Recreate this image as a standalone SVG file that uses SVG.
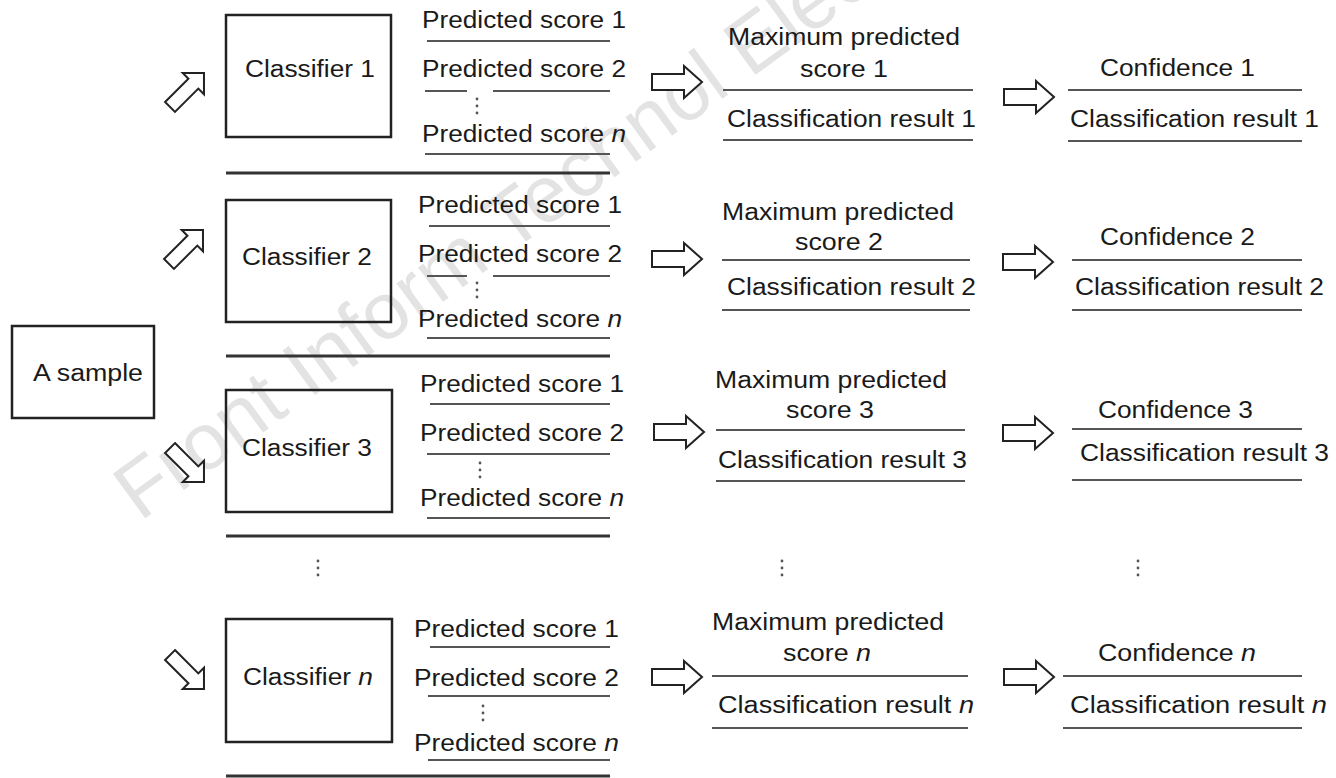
<svg xmlns="http://www.w3.org/2000/svg" width="1336" height="778" viewBox="0 0 1336 778">
<style>
.t{font-family:"Liberation Sans",Arial,sans-serif;font-size:23px;fill:#1a1a1a}
.i{font-style:italic}
.box{fill:none;stroke:#222;stroke-width:2.5}
.ul{stroke:#555;stroke-width:2.2}
.sep{stroke:#333;stroke-width:3}
.arr{fill:#fff;stroke:#222;stroke-width:2;stroke-linejoin:miter}
.dot{fill:#555}
.wm{font-family:"Liberation Sans",Arial,sans-serif;font-size:80px;fill:#e3e3e3}
</style>
<defs>
<path id="rarr" d="M-25,-8 H7 V-16 L25,0 L7,16 V8 H-25 Z"/>
<path id="darr" d="M-24,-7 H9 V-15 L24,0 L9,15 V7 H-24 Z"/>
<g id="vdots"><circle cx="0" cy="0" r="1.4"/><circle cx="0" cy="7" r="1.4"/><circle cx="0" cy="14" r="1.4"/></g>
</defs>
<rect width="1336" height="778" fill="#fff"/>
<text class="wm" x="140" y="522" transform="rotate(-36 140 522)">Front Inform Technol Electron Eng</text>

<g id="sample">
<rect class="box" x="12" y="326" width="142" height="92"/>
<text class="t" x="33" y="381" textLength="110" lengthAdjust="spacingAndGlyphs">A sample</text>
</g>

<g id="classifier1">
<rect class="box" x="226" y="15" width="165" height="122"/>
<text class="t" x="245" y="77" textLength="130" lengthAdjust="spacingAndGlyphs">Classifier 1</text>
</g>
<g id="classifier2">
<rect class="box" x="226" y="200" width="165" height="122"/>
<text class="t" x="242" y="265" textLength="130" lengthAdjust="spacingAndGlyphs">Classifier 2</text>
</g>
<g id="classifier3">
<rect class="box" x="226" y="390" width="166" height="122"/>
<text class="t" x="242" y="456" textLength="130" lengthAdjust="spacingAndGlyphs">Classifier 3</text>
</g>
<g id="classifierN">
<rect class="box" x="226" y="619" width="166" height="123"/>
<text class="t" x="243" y="685" textLength="130" lengthAdjust="spacingAndGlyphs">Classifier <tspan class="i">n</tspan></text>
</g>

<g id="scores1">
<text class="t" x="422" y="28" textLength="204" lengthAdjust="spacingAndGlyphs">Predicted score 1</text>
<line class="ul" x1="427" y1="41" x2="610" y2="41"/>
<text class="t" x="422" y="77" textLength="204" lengthAdjust="spacingAndGlyphs">Predicted score 2</text>
<line class="ul" x1="425" y1="91" x2="467" y2="91"/>
<line class="ul" x1="493" y1="91" x2="610" y2="91"/>
<use href="#vdots" class="dot" x="477" y="99"/>
<text class="t" x="422" y="142" textLength="204" lengthAdjust="spacingAndGlyphs">Predicted score <tspan class="i">n</tspan></text>
<line class="ul" x1="425" y1="154" x2="610" y2="154"/>
<line class="sep" x1="226" y1="173" x2="610" y2="173"/>
</g>
<g id="scores2">
<text class="t" x="418" y="213" textLength="204" lengthAdjust="spacingAndGlyphs">Predicted score 1</text>
<line class="ul" x1="429" y1="226" x2="610" y2="226"/>
<text class="t" x="418" y="262" textLength="204" lengthAdjust="spacingAndGlyphs">Predicted score 2</text>
<line class="ul" x1="427" y1="276" x2="467" y2="276"/>
<line class="ul" x1="493" y1="276" x2="610" y2="276"/>
<use href="#vdots" class="dot" x="477" y="283"/>
<text class="t" x="418" y="327" textLength="204" lengthAdjust="spacingAndGlyphs">Predicted score <tspan class="i">n</tspan></text>
<line class="ul" x1="427" y1="338" x2="610" y2="338"/>
<line class="sep" x1="226" y1="356" x2="610" y2="356"/>
</g>
<g id="scores3">
<text class="t" x="420" y="392" textLength="204" lengthAdjust="spacingAndGlyphs">Predicted score 1</text>
<line class="ul" x1="430" y1="404" x2="610" y2="404"/>
<text class="t" x="420" y="441" textLength="204" lengthAdjust="spacingAndGlyphs">Predicted score 2</text>
<line class="ul" x1="427" y1="454" x2="610" y2="454"/>
<use href="#vdots" class="dot" x="480" y="463"/>
<text class="t" x="420" y="506" textLength="204" lengthAdjust="spacingAndGlyphs">Predicted score <tspan class="i">n</tspan></text>
<line class="ul" x1="427" y1="518" x2="610" y2="518"/>
<line class="sep" x1="226" y1="536" x2="610" y2="536"/>
</g>
<g id="scoresN">
<text class="t" x="414" y="637" textLength="205" lengthAdjust="spacingAndGlyphs">Predicted score 1</text>
<line class="ul" x1="430" y1="647" x2="610" y2="647"/>
<text class="t" x="414" y="686" textLength="205" lengthAdjust="spacingAndGlyphs">Predicted score 2</text>
<line class="ul" x1="428" y1="696" x2="610" y2="696"/>
<use href="#vdots" class="dot" x="483" y="706"/>
<text class="t" x="414" y="751" textLength="205" lengthAdjust="spacingAndGlyphs">Predicted score <tspan class="i">n</tspan></text>
<line class="ul" x1="428" y1="760" x2="610" y2="760"/>
<line class="sep" x1="226" y1="776" x2="610" y2="776"/>
</g>

<g id="max1">
<text class="t" x="728" y="45" textLength="232" lengthAdjust="spacingAndGlyphs">Maximum predicted</text>
<text class="t" x="800" y="77" textLength="88" lengthAdjust="spacingAndGlyphs">score 1</text>
<line class="ul" x1="723" y1="90" x2="973" y2="90"/>
<text class="t" x="727" y="127" textLength="249" lengthAdjust="spacingAndGlyphs">Classification result 1</text>
<line class="ul" x1="723" y1="140" x2="973" y2="140"/>
</g>
<g id="max2">
<text class="t" x="722" y="220" textLength="232" lengthAdjust="spacingAndGlyphs">Maximum predicted</text>
<text class="t" x="795" y="250" textLength="88" lengthAdjust="spacingAndGlyphs">score 2</text>
<line class="ul" x1="722" y1="260" x2="970" y2="260"/>
<text class="t" x="727" y="295" textLength="249" lengthAdjust="spacingAndGlyphs">Classification result 2</text>
<line class="ul" x1="722" y1="310" x2="970" y2="310"/>
</g>
<g id="max3">
<text class="t" x="715" y="388" textLength="232" lengthAdjust="spacingAndGlyphs">Maximum predicted</text>
<text class="t" x="786" y="418" textLength="88" lengthAdjust="spacingAndGlyphs">score 3</text>
<line class="ul" x1="716" y1="430" x2="965" y2="430"/>
<text class="t" x="718" y="468" textLength="249" lengthAdjust="spacingAndGlyphs">Classification result 3</text>
<line class="ul" x1="716" y1="481" x2="965" y2="481"/>
</g>
<g id="maxN">
<text class="t" x="712" y="630" textLength="232" lengthAdjust="spacingAndGlyphs">Maximum predicted</text>
<text class="t" x="783" y="661" textLength="88" lengthAdjust="spacingAndGlyphs">score <tspan class="i">n</tspan></text>
<line class="ul" x1="712" y1="676" x2="968" y2="676"/>
<text class="t" x="718" y="713" textLength="256" lengthAdjust="spacingAndGlyphs">Classification result <tspan class="i">n</tspan></text>
<line class="ul" x1="712" y1="728" x2="968" y2="728"/>
</g>

<g id="conf1">
<text class="t" x="1100" y="76" textLength="155" lengthAdjust="spacingAndGlyphs">Confidence 1</text>
<line class="ul" x1="1068" y1="90" x2="1302" y2="90"/>
<text class="t" x="1070" y="127" textLength="249" lengthAdjust="spacingAndGlyphs">Classification result 1</text>
<line class="ul" x1="1068" y1="141" x2="1302" y2="141"/>
</g>
<g id="conf2">
<text class="t" x="1100" y="245" textLength="155" lengthAdjust="spacingAndGlyphs">Confidence 2</text>
<line class="ul" x1="1072" y1="260" x2="1302" y2="260"/>
<text class="t" x="1075" y="295" textLength="249" lengthAdjust="spacingAndGlyphs">Classification result 2</text>
<line class="ul" x1="1072" y1="310" x2="1302" y2="310"/>
</g>
<g id="conf3">
<text class="t" x="1098" y="418" textLength="155" lengthAdjust="spacingAndGlyphs">Confidence 3</text>
<line class="ul" x1="1072" y1="429" x2="1302" y2="429"/>
<text class="t" x="1080" y="461" textLength="249" lengthAdjust="spacingAndGlyphs">Classification result 3</text>
<line class="ul" x1="1072" y1="480" x2="1302" y2="480"/>
</g>
<g id="confN">
<text class="t" x="1098" y="661" textLength="158" lengthAdjust="spacingAndGlyphs">Confidence <tspan class="i">n</tspan></text>
<line class="ul" x1="1063" y1="676" x2="1302" y2="676"/>
<text class="t" x="1070" y="713" textLength="257" lengthAdjust="spacingAndGlyphs">Classification result <tspan class="i">n</tspan></text>
<line class="ul" x1="1063" y1="728" x2="1302" y2="728"/>
</g>

<g id="ellipses" class="dot">
<use href="#vdots" x="318" y="561"/>
<use href="#vdots" x="782" y="561"/>
<use href="#vdots" x="1138" y="561"/>
</g>

<g id="connectors" class="arr">
<use href="#darr" transform="translate(187,90) rotate(-45)"/>
<use href="#darr" transform="translate(186,247) rotate(-45)"/>
<use href="#darr" transform="translate(187,465) rotate(45)"/>
<use href="#darr" transform="translate(187,672) rotate(45)"/>
<use href="#rarr" transform="translate(677,82)"/>
<use href="#rarr" transform="translate(677,259)"/>
<use href="#rarr" transform="translate(679,432)"/>
<use href="#rarr" transform="translate(677,677)"/>
<use href="#rarr" transform="translate(1029,97)"/>
<use href="#rarr" transform="translate(1028,262)"/>
<use href="#rarr" transform="translate(1028,433)"/>
<use href="#rarr" transform="translate(1029,677)"/>
</g>
</svg>
